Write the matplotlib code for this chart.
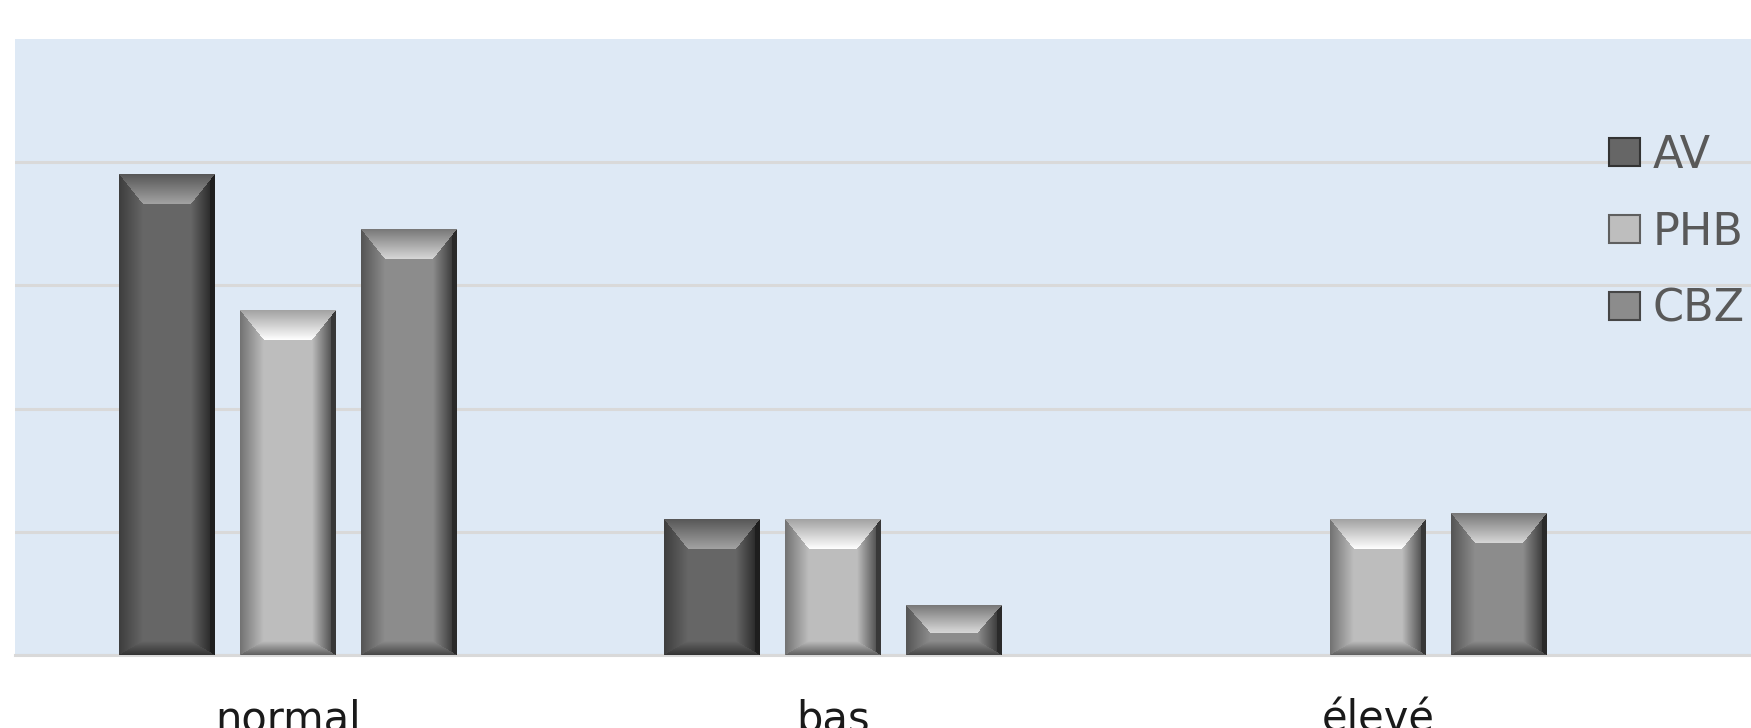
import matplotlib
matplotlib.use("Agg")
import matplotlib.pyplot as plt
from matplotlib.patches import Patch
import numpy as np

# data (percent of patients per group)
categories = ["normal", "bas", "élevé"]
series = ["AV", "PHB", "CBZ"]
av = [78, 22, 0]
phb = [56, 22, 22]
cbz = [69, 8, 23]

# grey level of each series face (0..1)
shades = {"AV": 0.40, "PHB": 0.745, "CBZ": 0.55}


def bevel(w, h, base, side=24, top=30, bottom=14):
    """Build a grey bevelled-bar image (h x w x 3) like the old Excel look."""
    X, Y = np.meshgrid(np.arange(w) + 0.5, np.arange(h) + 0.5)
    top = min(top, h * 0.55)
    bottom = min(bottom, h * 0.35)
    side = min(side, w * 0.3)
    d = np.stack([Y / top, X / side, (w - X) / side, (h - Y) / bottom])
    k = d.argmin(0)
    t = np.clip(d.min(0), 0, 1)
    hi = min(1.0, base * 1.35 + 0.1)
    v_top = base * 0.85 + (hi - base * 0.85) * t
    v_left = base * (0.6 + 0.4 * t)
    v_right = base * (0.3 + 0.7 * t)
    v_right = np.where((w - X) < 5, base * 0.3, v_right)
    v_bot = base * (0.5 + 0.5 * t)
    v = np.choose(k, [v_top, v_left, v_right, v_bot])
    v = np.where(d.min(0) < 1, v, base)
    v = np.clip(v, 0, 1)
    return np.dstack([v, v, v])


W, H = 1751, 728
fig = plt.figure(figsize=(W / 100, H / 100), dpi=100)
ax = fig.add_axes([15 / W, 1 - 655 / H, 1 - 15 / W, (655 - 39) / H])
ax.set_facecolor("#DEE9F5")

x = np.arange(len(categories))
width = 0.176
offset = 0.2216
values = {"AV": av, "PHB": phb, "CBZ": cbz}

ax.set_xlim(-0.5, 2.683)
ax.set_ylim(0, 100)

bars = {}
for i, name in enumerate(series):
    bars[name] = ax.bar(x + (i - 1) * offset, values[name], width,
                        color=str(shades[name]), zorder=2)

# overlay bevel shading on every bar, sized in screen pixels
fig.canvas.draw()
for name in series:
    for p in bars[name].patches:
        x0, y0 = p.get_x(), p.get_y()
        x1, y1 = x0 + p.get_width(), y0 + p.get_height()
        (px0, py0), (px1, py1) = ax.transData.transform([(x0, y0), (x1, y1)])
        w, h = int(round(px1 - px0)), int(round(py1 - py0))
        if h < 2:
            continue
        ax.imshow(bevel(w, h, shades[name]), extent=(x0, x1, y0, y1),
                  aspect="auto", interpolation="nearest", zorder=3)

ax.set_xlim(-0.5, 2.683)
ax.set_ylim(0, 100)

ax.set_yticks([0, 20, 40, 60, 80])
ax.set_yticklabels([])
ax.grid(axis="y", color="#D9D9D9", linewidth=2.2)
ax.set_axisbelow(True)
ax.tick_params(axis="y", length=0)

ax.set_xticks(x)
ax.set_xticklabels(categories, fontsize=30, color="#1a1a1a")
ax.tick_params(axis="x", length=0, pad=31)

for s in ["top", "left", "right"]:
    ax.spines[s].set_visible(False)
ax.spines["bottom"].set_color("#D9D9D9")
ax.spines["bottom"].set_linewidth(2.2)

handles = [Patch(facecolor=str(shades[n]), edgecolor=str(shades[n] * 0.5),
                 linewidth=1.5) for n in series]
ax.legend(handles, series, loc="upper left", bbox_to_anchor=(1609 / W, 1 - 134 / H),
          bbox_transform=fig.transFigure, frameon=False, fontsize=32,
          handlelength=0.7, handleheight=0.6, handletextpad=0.28,
          labelspacing=0.76, borderpad=0, borderaxespad=0, labelcolor="#595959")

fig.savefig("out.png", dpi=100)
